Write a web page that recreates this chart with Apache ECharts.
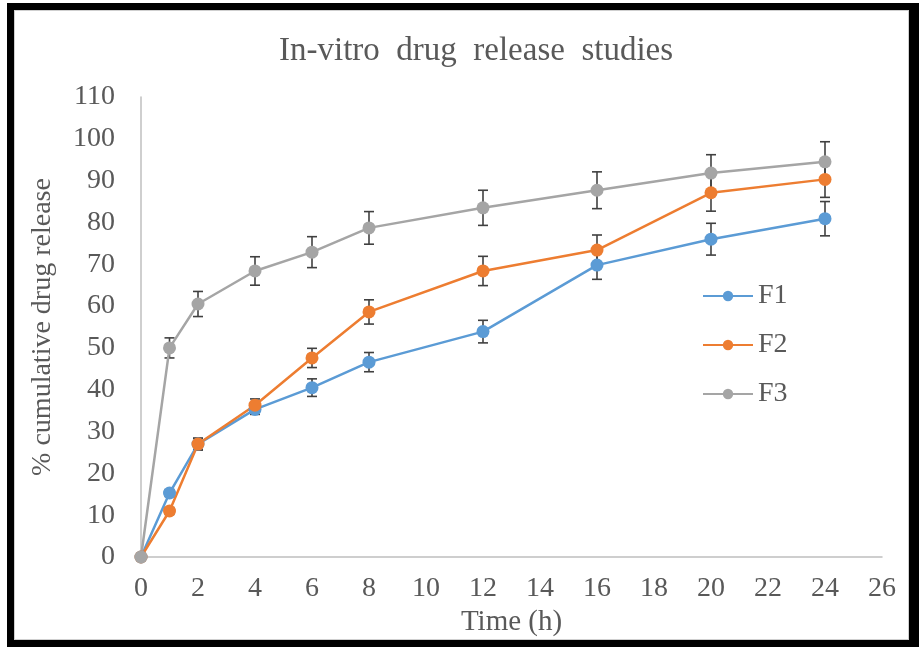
<!DOCTYPE html>
<html>
<head>
<meta charset="utf-8">
<style>
  html, body { margin: 0; padding: 0; width: 919px; height: 647px; background: #ffffff; overflow: hidden; }
  #frame {
    position: absolute; left: 7px; top: 3px; width: 912px; height: 644px;
    box-sizing: border-box; border-style: solid; border-color: #000;
    border-width: 7px 10px 7px 7px;
  }
  #frame-inner {
    position: absolute; left: 0; top: 0; right: 0; bottom: 0;
    border: 1px solid #cfcfcf; box-sizing: border-box;
  }
  #chart { position: absolute; left: 0; top: 0; width: 919px; height: 647px; }
</style>
<script src="https://cdn.jsdelivr.net/npm/echarts@6/dist/echarts.min.js"></script>
</head>
<body>
<div id="frame"><div id="frame-inner"></div></div>
<div id="chart"></div>
<script>
// Sampling times (h)
const times = [0, 1, 2, 4, 6, 8, 12, 16, 20, 24];

// Mean % cumulative drug release per formulation
const f1 = [0, 15.3, 27.0, 35.3, 40.5, 46.6, 53.9, 69.8, 76.0, 80.9];
const f2 = [0, 11.0, 27.0, 36.3, 47.6, 58.6, 68.4, 73.4, 87.1, 90.3];
const f3 = [0, 50.0, 60.5, 68.4, 72.9, 78.7, 83.5, 87.7, 91.8, 94.5];

// Standard deviations (error bars)
const f1Sd = [0, 0.8, 1.4, 1.2, 2.1, 2.3, 2.7, 3.4, 3.8, 4.1];
const f2Sd = [0, 0.8, 1.4, 1.5, 2.3, 2.9, 3.5, 3.6, 4.4, 4.3];
const f3Sd = [0, 2.4, 3.0, 3.4, 3.7, 3.9, 4.2, 4.4, 4.4, 4.8];

const seriesNames = ['F1', 'F2', 'F3'];
const seriesColors = ['#5B9BD5', '#ED7D31', '#A5A5A5'];

// Axis ranges and tick steps
const xMin = 0, xMax = 26, xStep = 2;
const yMin = 0, yMax = 110, yStep = 10;

const textColor = '#595959';
const serif = '"Liberation Serif", "Times New Roman", serif';

function lineSeries(name, values, color) {
  return {
    name: name,
    type: 'line',
    data: times.map((t, i) => [t, values[i]]),
    symbol: 'circle',
    symbolSize: 13,
    itemStyle: { color: color },
    lineStyle: { color: color, width: 2.5 },
    z: 3
  };
}

function errorSeries(name, values, sd) {
  return {
    name: name + ' SD',
    type: 'custom',
    data: times.map((t, i) => [t, values[i] - sd[i], values[i] + sd[i]]),
    renderItem: function (params, api) {
      const lo = api.coord([api.value(0), api.value(1)]);
      const hi = api.coord([api.value(0), api.value(2)]);
      const half = 5;
      const style = { stroke: '#404040', lineWidth: 1.6, fill: null };
      return {
        type: 'group',
        children: [
          { type: 'line', shape: { x1: lo[0], y1: lo[1], x2: hi[0], y2: hi[1] }, style: style },
          { type: 'line', shape: { x1: lo[0] - half, y1: lo[1], x2: lo[0] + half, y2: lo[1] }, style: style },
          { type: 'line', shape: { x1: hi[0] - half, y1: hi[1], x2: hi[0] + half, y2: hi[1] }, style: style }
        ]
      };
    },
    silent: true,
    z: 2
  };
}

const chart = echarts.init(document.getElementById('chart'), null, { renderer: 'canvas' });

chart.setOption({
  backgroundColor: 'transparent',
  animation: false,
  title: {
    text: 'In-vitro  drug  release  studies',
    left: 274,
    top: 30,
    textStyle: { fontFamily: serif, fontSize: 33, fontWeight: 'normal', color: textColor }
  },
  legend: {
    data: seriesNames,
    orient: 'vertical',
    left: 697,
    top: 277,
    itemWidth: 50,
    itemHeight: 13,
    itemGap: 21,
    textStyle: { fontFamily: serif, fontSize: 28, color: textColor }
  },
  grid: { left: 141, right: 37, top: 97, bottom: 90, containLabel: false },
  xAxis: {
    type: 'value',
    min: xMin, max: xMax, interval: xStep,
    name: 'Time (h)',
    nameLocation: 'middle',
    nameGap: 51,
    nameTextStyle: { fontFamily: serif, fontSize: 29, color: textColor },
    axisLine: { lineStyle: { color: '#BFBFBF', width: 1.5 } },
    axisTick: { show: false },
    splitLine: { show: false },
    axisLabel: { margin: 18, fontFamily: serif, fontSize: 28, color: textColor }
  },
  yAxis: {
    type: 'value',
    min: yMin, max: yMax, interval: yStep,
    name: '% cumulative drug release',
    nameLocation: 'middle',
    nameGap: 84,
    nameRotate: 90,
    nameTextStyle: { fontFamily: serif, fontSize: 28, color: textColor },
    axisLine: { show: true, lineStyle: { color: '#BFBFBF', width: 1.5 } },
    axisTick: { show: false },
    splitLine: { show: false },
    axisLabel: { margin: 26, fontFamily: serif, fontSize: 28, color: textColor }
  },
  series: [
    errorSeries('F1', f1, f1Sd),
    errorSeries('F2', f2, f2Sd),
    errorSeries('F3', f3, f3Sd),
    lineSeries('F1', f1, seriesColors[0]),
    lineSeries('F2', f2, seriesColors[1]),
    lineSeries('F3', f3, seriesColors[2])
  ]
});
</script>
</body>
</html>
